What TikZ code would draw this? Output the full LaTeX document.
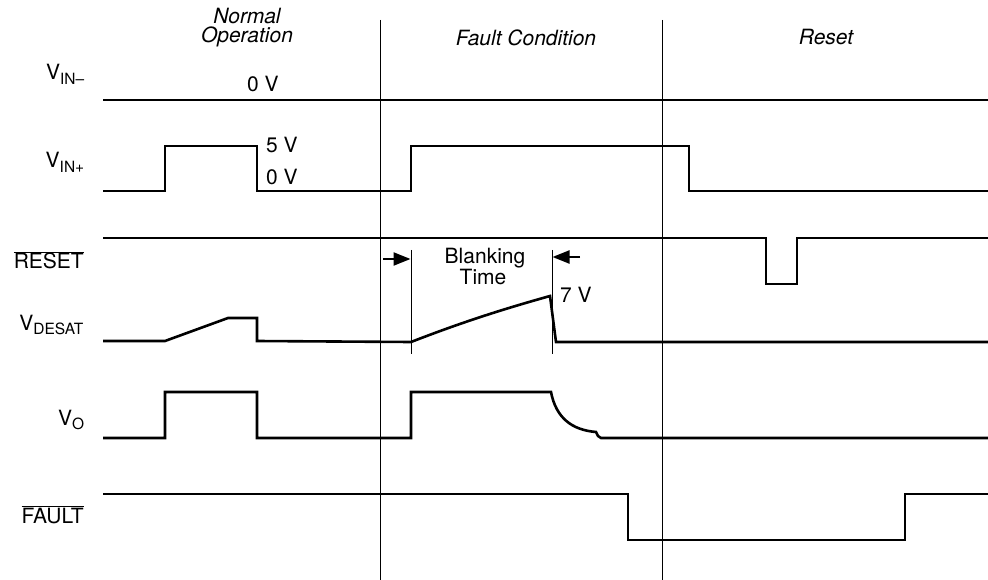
\documentclass[tikz,border=0pt]{standalone}
\usepackage{fontspec}
\setmainfont{TeX Gyre Heros}
\usetikzlibrary{arrows.meta}
\newcommand{\subsz}{\fontsize{15.5}{15.5}\selectfont}
\begin{document}
\begin{tikzpicture}[x=1pt,y=-1pt,
  sig/.style={line width=2.6pt, line join=miter},
  thin/.style={line width=1pt},
  lbl/.style={font=\fontsize{21}{23}\selectfont, inner sep=0pt},
  hdr/.style={font=\fontsize{21}{19}\selectfont\itshape, inner sep=0pt, align=center},
  arr/.style={line width=2.2pt, -{Triangle[length=17pt,width=13pt]}}]
\useasboundingbox (0,0) rectangle (988,580);
% region separators
\coordinate (s1t) at (380,20); \coordinate (s1b) at (380,580);
\coordinate (s2t) at (662,20); \coordinate (s2b) at (662,580);
\draw[thin] (s1t) -- (s1b);
\draw[thin] (s2t) -- (s2b);
% headers
\node[hdr, anchor=base] (hN) at (247,43) {Normal\\Operation};
\node[hdr, anchor=base] (hF) at (526,45.5) {Fault Condition};
\node[hdr, anchor=base] (hR) at (826,45) {Reset};
% signal labels
\node[lbl, anchor=base east] (lvin) at (85,80) {V\textsubscript{\subsz IN–}};
\node[lbl, anchor=base east] (lvip) at (85,168) {V\textsubscript{\subsz IN+}};
\node[lbl, anchor=base east] (lres) at (84,269) {$\overline{\mbox{RESET}}$};
\node[lbl, anchor=base east] (ldes) at (84,330) {V\textsubscript{\subsz DESAT}};
\node[lbl, anchor=base east] (lvo) at (85,425) {V\textsubscript{\subsz O}};
\node[lbl, anchor=base east] (lflt) at (84,523) {$\overline{\mbox{FAULT}}$};
% value labels
\node[lbl, anchor=base west] (v0a) at (247,91.5) {0 V};
\node[lbl, anchor=base west] (v5) at (266,152.5) {5 V};
\node[lbl, anchor=base west] (v0b) at (266,185) {0 V};
\node[lbl, anchor=base west] (v7) at (560,302.5) {7 V};
\node[lbl, anchor=base] (bl1) at (485,263.5) {Blanking};
\node[lbl, anchor=base] (bl2) at (483,284.5) {Time};
% V_IN-
\draw[sig] (103,100) -- (988,100);
% V_IN+
\draw[sig] (103,191) -- (165,191) -- (165,146) -- (257,146) -- (257,191) -- (411,191) -- (411,146) -- (689,146) -- (689,191) -- (988,191);
% RESET
\draw[sig] (103,238) -- (766,238) -- (766,284) -- (797,284) -- (797,238) -- (988,238);
% V_DESAT
\draw[sig] (103,341) -- (165,341) -- (228,318) -- (257,318) -- (257,341) -- (411,342)
  .. controls (460,323) and (500,310) .. (550,296) -- (556,342) -- (988,342);
% V_O
\draw[sig] (103,438) -- (165,438) -- (165,392) -- (257,392) -- (257,438) -- (411,438) -- (411,392) -- (551,392)
  .. controls (556,418) and (572,430) .. (596,432) -- (598,436) -- (601,438) -- (988,438);
% FAULT
\draw[sig] (103,494) -- (628,494) -- (628,540) -- (905,540) -- (905,494) -- (988,494);
% blanking time markers
\coordinate (b1t) at (411,250); \coordinate (b1b) at (411,354);
\coordinate (b2t) at (552,250); \coordinate (b2b) at (552,354);
\draw[thin] (b1t) -- (b1b);
\draw[thin] (b2t) -- (b2b);
\coordinate (a1s) at (383,259); \coordinate (a1e) at (410.5,259);
\coordinate (a2s) at (580,257); \coordinate (a2e) at (552.5,257);
\draw[arr] (a1s) -- (a1e);
\draw[arr] (a2s) -- (a2e);
\end{tikzpicture}
\end{document}
